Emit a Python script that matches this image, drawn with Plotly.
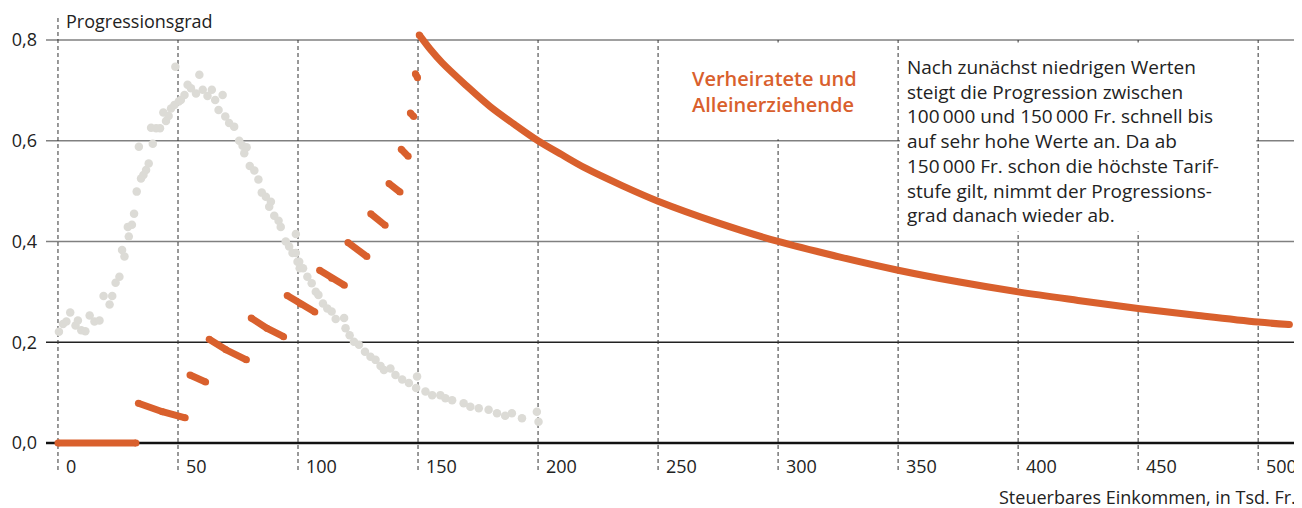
import plotly.graph_objects as go

# Gray background points (income distribution)
dist_x = [0.4, 2.1, 3.5, 5.1, 7.3, 8.3, 9.7, 11.4, 13.2, 15.2, 17.3, 19.0, 21.5, 22.6, 24.0,
          25.6, 26.7, 27.7, 29.5, 29.1, 30.8, 31.7, 32.8, 34.6, 35.6, 36.7, 37.8, 33.7, 39.5,
          38.8, 40.9, 42.5, 45.0, 43.9, 46.1, 47.1, 48.5, 50.3, 48.9, 51.2, 52.7, 54.0, 55.4,
          57.5, 58.9, 60.3, 62.3, 64.1, 65.5, 68.6, 66.9, 69.7, 71.3, 73.4, 75.5, 76.9, 78.6,
          77.6, 79.9, 81.8, 83.5, 84.9, 86.6, 88.7, 88.0, 90.1, 91.9, 92.8, 94.9, 99.1, 96.3,
          97.7, 99.8, 100.7, 99.1, 100.5, 102.1, 103.9, 105.7, 107.4, 108.5, 110.4, 112.2,
          114.0, 115.7, 119.2, 119.8, 121.5, 123.3, 125.4, 127.9, 130.2, 132.3, 134.4, 135.8,
          138.5, 140.6, 143.4, 146.2, 149.6, 149.2, 153.1, 155.9, 159.3, 161.4, 164.2, 169.0,
          171.8, 175.3, 179.4, 182.9, 189.1, 186.3, 193.3, 199.5, 200.2]
dist_y = [0.221, 0.236, 0.241, 0.259, 0.233, 0.243, 0.224, 0.222, 0.253, 0.241, 0.243, 0.292,
          0.275, 0.292, 0.318, 0.330, 0.383, 0.370, 0.410, 0.429, 0.433, 0.455, 0.499, 0.525,
          0.532, 0.542, 0.555, 0.588, 0.594, 0.626, 0.625, 0.625, 0.639, 0.656, 0.649, 0.664,
          0.671, 0.678, 0.747, 0.681, 0.691, 0.711, 0.704, 0.694, 0.731, 0.701, 0.689, 0.701,
          0.681, 0.691, 0.661, 0.648, 0.635, 0.628, 0.600, 0.590, 0.587, 0.575, 0.550, 0.541,
          0.523, 0.497, 0.489, 0.479, 0.469, 0.451, 0.441, 0.429, 0.400, 0.415, 0.390, 0.377,
          0.360, 0.347, 0.377, 0.360, 0.347, 0.330, 0.317, 0.300, 0.294, 0.277, 0.267, 0.261,
          0.246, 0.248, 0.228, 0.214, 0.201, 0.195, 0.181, 0.171, 0.165, 0.153, 0.145, 0.148,
          0.135, 0.126, 0.119, 0.132, 0.109, 0.102, 0.095, 0.095, 0.089, 0.085, 0.079, 0.072,
          0.069, 0.066, 0.059, 0.059, 0.054, 0.049, 0.062, 0.042]

# Progression degree, married tariff: one list per tariff step
step_x = [
    [0, 32.5],
    [33.5, 43.5, 53],
    [55, 61.5],
    [63, 70, 78.5],
    [80.5, 87, 94],
    [95.5, 101, 107],
    [109, 114, 119.3],
    [120.8, 128.7],
    [130.3, 136.3],
    [137.9, 142.5],
    [143, 145.9],
    [146.8, 148.2],
    [148.9, 149.8],
]
step_y = [
    [0, 0],
    [0.079, 0.062, 0.050],
    [0.135, 0.121],
    [0.206, 0.185, 0.165],
    [0.248, 0.228, 0.211],
    [0.293, 0.276, 0.260],
    [0.343, 0.327, 0.313],
    [0.398, 0.370],
    [0.455, 0.432],
    [0.515, 0.498],
    [0.583, 0.569],
    [0.655, 0.648],
    [0.733, 0.725],
]
# top tariff step
top_x = [150.5, 155, 160, 170, 180, 190, 200, 210, 220, 235, 250, 275, 300, 325, 350, 375,
         400, 425, 450, 475, 500, 513]
top_y = [0.81, 0.782, 0.755, 0.71, 0.668, 0.633, 0.60, 0.572, 0.545, 0.511, 0.48, 0.437,
         0.40, 0.37, 0.343, 0.32, 0.30, 0.283, 0.267, 0.253, 0.24, 0.235]

x_ticks = [0, 50, 100, 150, 200, 250, 300, 350, 400, 450, 500]
x_labels = [str(v) for v in x_ticks]
y_ticks = [0, 0.2, 0.4, 0.6, 0.8]

ORANGE = "#d9602d"
GRAY = "#dcdbd6"
FONT = "Open Sans"
TXT = "#222222"

# the page has an 8px body margin, so the figure is 8px smaller than the window
W, H = 1294, 500
M_L, M_R, M_T, M_B = 35, 4, 20, 56
PLOT_H = H - M_T - M_B
PLOT_BOTTOM_REF = 452  # plot bottom in window pixels


def paper_y(px):
    # window pixel row -> paper coordinate
    return (PLOT_BOTTOM_REF - px) / PLOT_H


fig = go.Figure()

fig.add_trace(go.Scatter(
    x=dist_x, y=dist_y, mode="markers",
    marker=dict(color=GRAY, size=8.5),
    hoverinfo="skip", showlegend=False
))

sx, sy = [], []
for xs, ys in zip(step_x, step_y):
    sx += xs + [None]
    sy += ys + [None]
fig.add_trace(go.Scatter(
    x=sx, y=sy, mode="lines+markers",
    line=dict(color=ORANGE, width=7),
    marker=dict(color=ORANGE, size=7),
    showlegend=False
))
fig.add_trace(go.Scatter(
    x=top_x, y=top_y, mode="lines",
    line=dict(color=ORANGE, width=7, shape="spline"),
    showlegend=False
))
fig.add_trace(go.Scatter(
    x=[top_x[0], top_x[-1]], y=[top_y[0], top_y[-1]], mode="markers",
    marker=dict(color=ORANGE, size=7),
    showlegend=False
))

shapes = []
# horizontal rules
h_colors = {0: "#111111", 0.2: "#222222", 0.4: "#808080", 0.6: "#808080", 0.8: "#808080"}
for v in y_ticks:
    shapes.append(dict(type="line", xref="paper", yref="y", x0=0, x1=1, y0=v, y1=v,
                       line=dict(color=h_colors[v], width=2.5 if v == 0 else 1.3), layer="below"))
# vertical dashed rules
for v in x_ticks:
    top = paper_y(15) if v == 0 else paper_y(40)
    shapes.append(dict(type="line", xref="x", yref="paper", x0=v, x1=v,
                       y0=paper_y(470), y1=top,
                       line=dict(color="#333333", width=1, dash="4px,3px"), layer="below"))
# white boxes behind the texts
shapes.append(dict(type="rect", xref="x", yref="y", x0=253.5, x1=347, y0=0.603, y1=0.795,
                   fillcolor="white", line=dict(width=0), layer="below"))
shapes.append(dict(type="rect", xref="x", yref="y", x0=350.8, x1=499.2, y0=0.42, y1=0.795,
                   fillcolor="white", line=dict(width=0), layer="below"))

annotations = []
for v, lab in zip(x_ticks, x_labels):
    annotations.append(dict(x=v, y=paper_y(466), xref="x", yref="paper", text=lab,
                            xanchor="left", yanchor="middle", xshift=6, showarrow=False,
                            font=dict(size=18, color=TXT, family=FONT)))
annotations += [
    dict(x=0, y=paper_y(21), xref="x", yref="paper", text="Progressionsgrad", xshift=6,
         xanchor="left", yanchor="middle", showarrow=False,
         font=dict(size=18, color=TXT, family=FONT)),
    dict(x=1, y=paper_y(497), xref="paper", yref="paper",
         text="Steuerbares Einkommen, in Tsd. Fr.", xanchor="right", yanchor="middle",
         showarrow=False, font=dict(size=18, color=TXT, family=FONT)),
    dict(x=263.5, y=paper_y(91), xref="x", yref="paper",
         text="Verheiratete und<br>Alleinerziehende", xanchor="left", yanchor="middle",
         align="left", showarrow=False,
         font=dict(size=20, color=ORANGE, family=FONT, weight=600)),
    dict(x=350.8, y=paper_y(141), xref="x", yref="paper", xshift=5,
         text=("Nach zunächst niedrigen Werten<br>steigt die Progression zwischen<br>"
               "100\u2009000 und 150\u2009000 Fr. schnell bis<br>auf sehr hohe Werte an. Da ab<br>"
               "150\u2009000 Fr. schon die höchste Tarif-<br>stufe gilt, nimmt der Progressions-<br>"
               "grad danach wieder ab."),
         xanchor="left", yanchor="middle", align="left", showarrow=False,
         font=dict(size=19, color=TXT, family=FONT)),
]

fig.update_layout(
    width=W, height=H,
    margin=dict(l=M_L, r=M_R, t=M_T, b=M_B),
    plot_bgcolor="white", paper_bgcolor="white",
    separators=",.",
    showlegend=False,
    xaxis=dict(range=[-4.99, 516.6], showgrid=False, zeroline=False, showticklabels=False,
               showline=False, ticks=""),
    yaxis=dict(range=[-0.0179, 0.8238], tickvals=y_ticks, tickformat=".1f",
               showgrid=False, zeroline=False, showline=False, ticks="",
               ticklabelstandoff=8,
               tickfont=dict(size=18, color=TXT, family=FONT)),
    shapes=shapes,
    annotations=annotations,
)

fig.write_html("out.html")
